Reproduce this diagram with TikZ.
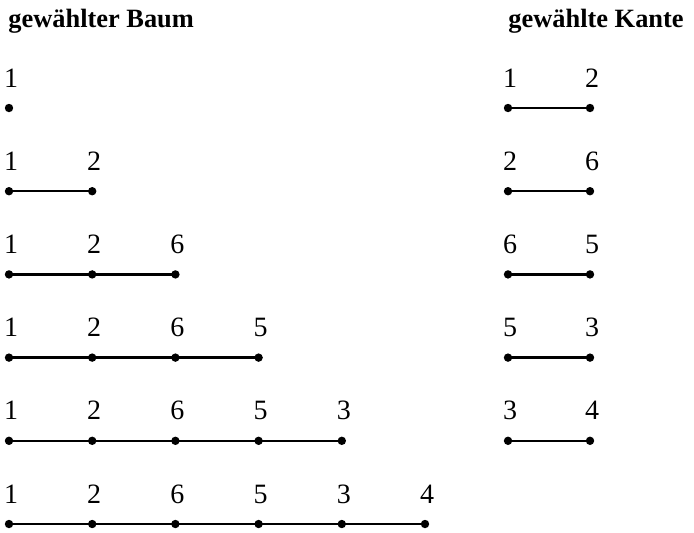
\documentclass[tikz,border=0pt]{standalone}
\usepackage{fontspec}
\setmainfont{Liberation Serif}
\tikzset{
  pt/.style={circle, fill=black, minimum size=4.2pt, inner sep=0pt},
  lbl/.style={font=\fontsize{14}{16}\selectfont, anchor=base, inner sep=0pt},
  ttl/.style={font=\fontsize{13.2}{16}\selectfont\bfseries, anchor=base west, inner sep=0pt},
  e/.style={draw=black, line width=1.25pt},
}

\begin{document}
\begin{tikzpicture}[x=0.5pt, y=-0.5pt]
  \useasboundingbox (0,0) rectangle (694,532);
  % titles
  \node[ttl] (tbaum) at (8,27) {gewählter Baum};
  \node[ttl] (tkante) at (508,27) {gewählte Kante};

  % chosen tree, one row per step
  \foreach \r in {1,...,6} {
    \foreach \v [count=\i] in {1,2,6,5,3,4} {
      \ifnum\i>\r \else
        \node[pt] (b\r-\i) at ({9+(\i-1)*83.2}, {108+(\r-1)*83.2}) {};
        \node[lbl] (bl\r-\i) at ([xshift=1pt, yshift=10.5pt]b\r-\i) {\v};
      \fi
    }
  }
  \foreach \r in {2,...,6}
    \foreach \i [remember=\i as \j (initially 1)] in {2,...,\r}
      \draw[e] (b\r-\j.center) -- (b\r-\i.center);

  % chosen edge
  \foreach \a/\b [count=\r] in {1/2, 2/6, 6/5, 5/3, 3/4} {
    \node[pt] (k\r-1) at (508, {108+(\r-1)*83.2}) {};
    \node[pt] (k\r-2) at (590, {108+(\r-1)*83.2}) {};
    \node[lbl] (kl\r-1) at ([xshift=1pt, yshift=10.5pt]k\r-1) {\a};
    \node[lbl] (kl\r-2) at ([xshift=1pt, yshift=10.5pt]k\r-2) {\b};
    \draw[e] (k\r-1.center) -- (k\r-2.center);
  }
\end{tikzpicture}
\end{document}
